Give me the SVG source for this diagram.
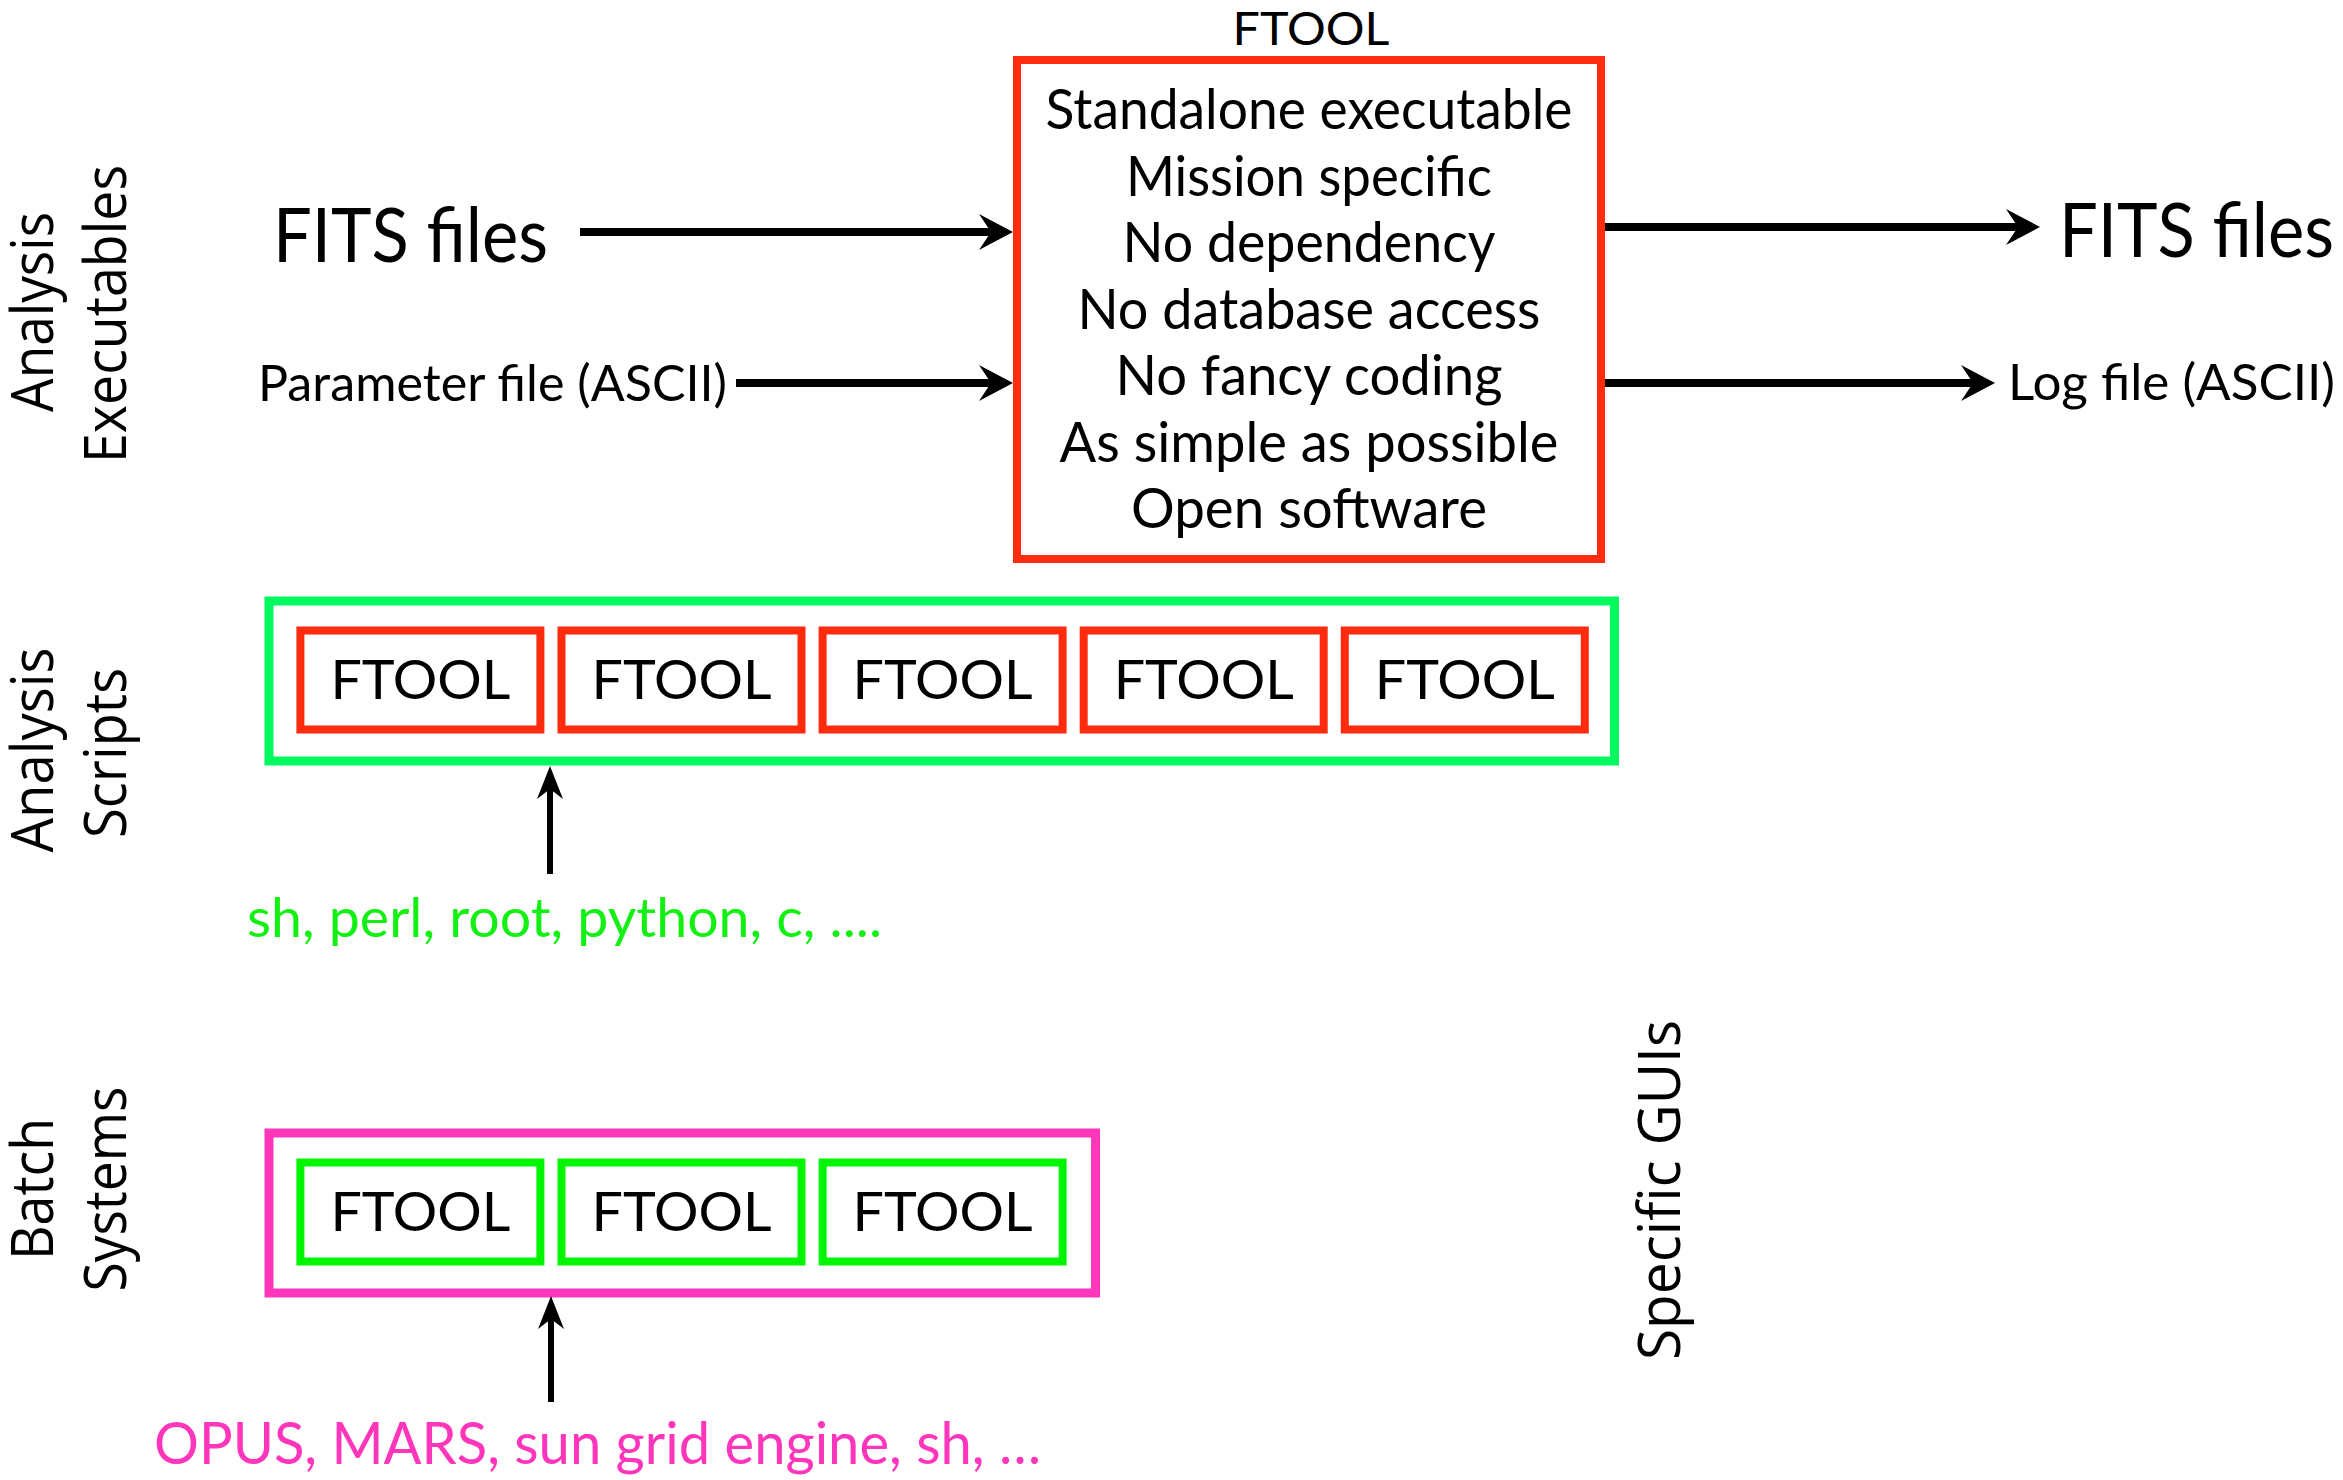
<svg xmlns="http://www.w3.org/2000/svg" width="2343" height="1480" viewBox="0 0 2343 1480">
<style>
  .g { font-family: Lato, "Open Sans", "Liberation Sans", sans-serif; fill: #000; }
  .side { font-family: "Open Sans", "Noto Sans", "DejaVu Sans", sans-serif; font-size: 58px; fill: #000; }
  .red { fill: none; stroke: #FF2B0E; }
  .arrowline { stroke: #000; fill: none; }
</style>
<defs>
  <marker id="headH" markerUnits="userSpaceOnUse" orient="auto" refX="12" refY="0" markerWidth="40" markerHeight="40" overflow="visible">
    <path d="M0,-18 L34,0 L0,18 L12,0 Z" fill="#000"/>
  </marker>
  <marker id="headV" markerUnits="userSpaceOnUse" orient="auto" refX="10" refY="0" markerWidth="40" markerHeight="40" overflow="visible">
    <path d="M0,-13 L33,0 L0,13 L10,0 Z" fill="#000"/>
  </marker>
</defs>
<rect width="2343" height="1480" fill="#fff"/>

<g id="side-labels">
  <g id="label-executables">
    <text class="side" transform="translate(53,312) rotate(-90)" text-anchor="middle" textLength="200" lengthAdjust="spacingAndGlyphs">Analysis</text>
    <text class="side" transform="translate(126,314) rotate(-90)" text-anchor="middle" textLength="298" lengthAdjust="spacingAndGlyphs">Executables</text>
  </g>
  <g id="label-scripts">
    <text class="side" transform="translate(53,750) rotate(-90)" text-anchor="middle" textLength="205" lengthAdjust="spacingAndGlyphs">Analysis</text>
    <text class="side" transform="translate(126,753) rotate(-90)" text-anchor="middle" textLength="170" lengthAdjust="spacingAndGlyphs">Scripts</text>
  </g>
  <g id="label-batch">
    <text class="side" transform="translate(53,1189) rotate(-90)" text-anchor="middle" textLength="142" lengthAdjust="spacingAndGlyphs">Batch</text>
    <text class="side" transform="translate(126,1189) rotate(-90)" text-anchor="middle" textLength="205" lengthAdjust="spacingAndGlyphs">Systems</text>
  </g>
  <g id="label-guis">
    <text class="side" transform="translate(1680,1190) rotate(-90)" text-anchor="middle" textLength="340" lengthAdjust="spacingAndGlyphs">Specific GUIs</text>
  </g>
</g>

<g id="ftool-main">
  <text class="g" x="1311" y="45" font-size="46" text-anchor="middle" textLength="157" lengthAdjust="spacingAndGlyphs">FTOOL</text>
  <rect class="red" x="1017" y="60" width="584" height="499" stroke-width="8"/>
  <g font-size="56" text-anchor="middle">
    <text class="g" x="1309" y="129" textLength="527" lengthAdjust="spacingAndGlyphs">Standalone executable</text>
    <text class="g" x="1309" y="195.5" textLength="366" lengthAdjust="spacingAndGlyphs">Mission specific</text>
    <text class="g" x="1309" y="262" textLength="373" lengthAdjust="spacingAndGlyphs">No dependency</text>
    <text class="g" x="1309" y="328.5" textLength="463" lengthAdjust="spacingAndGlyphs">No database access</text>
    <text class="g" x="1309" y="395" textLength="387" lengthAdjust="spacingAndGlyphs">No fancy coding</text>
    <text class="g" x="1309" y="461.5" textLength="499" lengthAdjust="spacingAndGlyphs">As simple as possible</text>
    <text class="g" x="1309" y="528" textLength="356" lengthAdjust="spacingAndGlyphs">Open software</text>
  </g>
</g>

<g id="fits-in">
  <text class="g" x="273" y="262" font-size="75" textLength="275" lengthAdjust="spacingAndGlyphs">FITS files</text>
</g>
<g id="param-in">
  <text class="g" x="258" y="401" font-size="51" textLength="469" lengthAdjust="spacingAndGlyphs">Parameter file (ASCII)</text>
</g>
<g id="fits-out">
  <text class="g" x="2059" y="257" font-size="75" textLength="275" lengthAdjust="spacingAndGlyphs">FITS files</text>
</g>
<g id="log-out">
  <text class="g" x="2008" y="400" font-size="51" textLength="327" lengthAdjust="spacingAndGlyphs">Log file (ASCII)</text>
</g>

<g id="scripts-box">
  <rect x="269" y="601" width="1345.5" height="160" fill="none" stroke="#00F95C" stroke-width="9"/>
  <g id="script-ftool-1"><rect class="red" x="300.4" y="630.5" width="240" height="99" stroke-width="8"/><text class="g" x="420.4" y="699.3" font-size="55" text-anchor="middle" textLength="180" lengthAdjust="spacingAndGlyphs">FTOOL</text></g>
  <g id="script-ftool-2"><rect class="red" x="561.5" y="630.5" width="240" height="99" stroke-width="8"/><text class="g" x="681.5" y="699.3" font-size="55" text-anchor="middle" textLength="180" lengthAdjust="spacingAndGlyphs">FTOOL</text></g>
  <g id="script-ftool-3"><rect class="red" x="822.6" y="630.5" width="240" height="99" stroke-width="8"/><text class="g" x="942.6" y="699.3" font-size="55" text-anchor="middle" textLength="180" lengthAdjust="spacingAndGlyphs">FTOOL</text></g>
  <g id="script-ftool-4"><rect class="red" x="1083.7" y="630.5" width="240" height="99" stroke-width="8"/><text class="g" x="1203.7" y="699.3" font-size="55" text-anchor="middle" textLength="180" lengthAdjust="spacingAndGlyphs">FTOOL</text></g>
  <g id="script-ftool-5"><rect class="red" x="1344.8" y="630.5" width="240" height="99" stroke-width="8"/><text class="g" x="1464.8" y="699.3" font-size="55" text-anchor="middle" textLength="180" lengthAdjust="spacingAndGlyphs">FTOOL</text></g>
</g>
<g id="scripts-lang">
  <text x="247" y="937" font-family="Lato, 'Open Sans', sans-serif" font-size="55" fill="#14F014" textLength="635" lengthAdjust="spacingAndGlyphs">sh, perl, root, python, c, ....</text>
</g>

<g id="batch-box">
  <rect x="269" y="1133" width="826.5" height="160" fill="none" stroke="#FF36BC" stroke-width="9"/>
  <g id="batch-ftool-1"><rect x="300.4" y="1162.5" width="240" height="99" fill="none" stroke="#00F500" stroke-width="8"/><text class="g" x="420.4" y="1231.3" font-size="55" text-anchor="middle" textLength="180" lengthAdjust="spacingAndGlyphs">FTOOL</text></g>
  <g id="batch-ftool-2"><rect x="561.5" y="1162.5" width="240" height="99" fill="none" stroke="#00F500" stroke-width="8"/><text class="g" x="681.5" y="1231.3" font-size="55" text-anchor="middle" textLength="180" lengthAdjust="spacingAndGlyphs">FTOOL</text></g>
  <g id="batch-ftool-3"><rect x="822.6" y="1162.5" width="240" height="99" fill="none" stroke="#00F500" stroke-width="8"/><text class="g" x="942.6" y="1231.3" font-size="55" text-anchor="middle" textLength="180" lengthAdjust="spacingAndGlyphs">FTOOL</text></g>
</g>
<g id="batch-systems">
  <text x="154" y="1464" font-family="Lato, 'Open Sans', sans-serif" font-size="58" fill="#FF36BC" textLength="887" lengthAdjust="spacingAndGlyphs">OPUS, MARS, sun grid engine, sh, …</text>
</g>

<g id="connectors">
  <line class="arrowline" x1="580" y1="232" x2="991" y2="232" stroke-width="8" marker-end="url(#headH)"/>
  <line class="arrowline" x1="736" y1="383" x2="991" y2="383" stroke-width="8" marker-end="url(#headH)"/>
  <line class="arrowline" x1="1605" y1="227" x2="2018" y2="227" stroke-width="8" marker-end="url(#headH)"/>
  <line class="arrowline" x1="1605" y1="383" x2="1973" y2="383" stroke-width="8" marker-end="url(#headH)"/>
  <line class="arrowline" x1="550" y1="874" x2="550" y2="789" stroke-width="6" marker-end="url(#headV)"/>
  <line class="arrowline" x1="551" y1="1402" x2="551" y2="1319" stroke-width="6" marker-end="url(#headV)"/>
</g>
</svg>
